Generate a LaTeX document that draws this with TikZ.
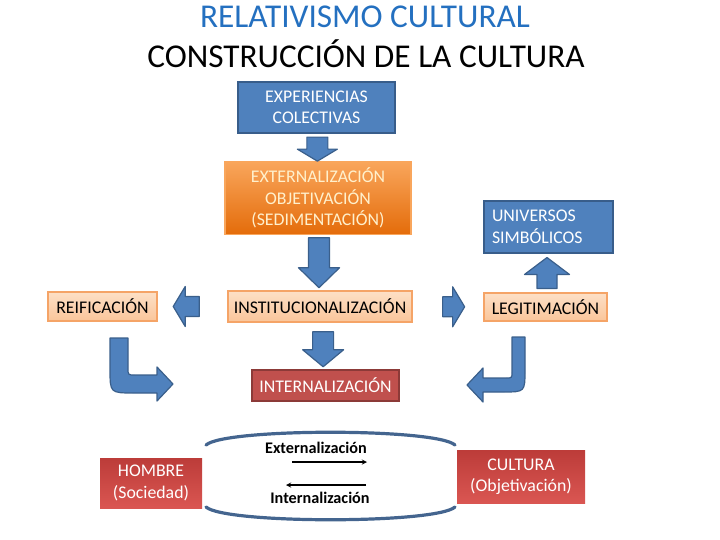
\documentclass[tikz,border=0pt]{standalone}
\usepackage{fontspec}
\setmainfont{Carlito}
\usetikzlibrary{positioning,calc}

\definecolor{titleblue}{HTML}{2470C0}
\definecolor{boxblue}{HTML}{4F81BD}
\definecolor{boxblueline}{HTML}{385D8A}
\definecolor{arrowline}{HTML}{3A5F8B}
\definecolor{orangetop}{HTML}{F9A65C}
\definecolor{orangebot}{HTML}{E46C0A}
\definecolor{orangetext}{HTML}{FFF0CC}
\definecolor{peachtop}{HTML}{FDE0C6}
\definecolor{peachbot}{HTML}{FAC59A}
\definecolor{peachline}{HTML}{F5A467}
\definecolor{boxred}{HTML}{C0504D}
\definecolor{boxredline}{HTML}{8C3A38}
\definecolor{redtop}{HTML}{BC3C39}
\definecolor{redbot}{HTML}{DA5652}
\definecolor{ringblue}{HTML}{44658F}

\begin{document}
\begin{tikzpicture}[x=1pt,y=-1pt,
    box/.style={draw, line width=1.5pt, inner sep=2pt, align=center,
      font=\fontsize{17.8}{21.5}\selectfont},
    bluebox/.style={box, fill=boxblue, draw=boxblueline, text=white},
    orangebox/.style={box, top color=orangetop, bottom color=orangebot, draw=orangetop, text=orangetext},
    peachbox/.style={box, top color=peachtop, bottom color=peachbot, draw=peachline, text=black},
    redbox/.style={box, fill=boxred, draw=boxredline, text=white},
    redgrad/.style={box, draw=none, top color=redtop, bottom color=redbot, text=white},
    title/.style={font=\fontsize{33.3}{38}\selectfont},
    flowlabel/.style={font=\fontsize{16.2}{19}\selectfont\bfseries},
    flow/.style={-stealth, line width=1.3pt},
    ring/.style={draw=ringblue, line width=3.2pt, line cap=round},
    arrowbody/.style={fill=boxblue, draw=arrowline, line width=1.2pt, line join=round},
    pics/bigarrow/.style n args={4}{code={
      \filldraw[arrowbody] (-#1/2,-#3/2) -- (#1/2-#2,-#3/2) -- (#1/2-#2,-#4/2) -- (#1/2,0)
        -- (#1/2-#2,#4/2) -- (#1/2-#2,#3/2) -- (-#1/2,#3/2) -- cycle;}}
    ]
    \useasboundingbox (0,0) rectangle (720,540);

    % titles
    \node[title, text=titleblue] (title1) at (365,17) {RELATIVISMO CULTURAL};
    \node[title] (title2) at (366,54) {CONSTRUCCIÓN DE LA CULTURA};

    % central column
    \node[bluebox, minimum width=157pt, minimum height=51pt] (exp) at (316.5,107.5) {EXPERIENCIAS\\COLECTIVAS};
    \node[orangebox, minimum width=186pt, minimum height=73pt] (ext) at (318,198) {EXTERNALIZACIÓN\\OBJETIVACIÓN\\(SEDIMENTACIÓN)};
    \node[peachbox, minimum width=184pt, minimum height=31pt] (inst) at (320,306.5) {INSTITUCIONALIZACIÓN};
    \node[redbox, minimum width=147pt, minimum height=31pt] (intern) at (325.5,385.5) {INTERNALIZACIÓN};

    % sides
    \node[peachbox, minimum width=109pt, minimum height=29pt] (reif) at (102.5,306.5) {REIFICACIÓN};
    \node[peachbox, minimum width=123pt, minimum height=28pt] (legit) at (545.5,307) {LEGITIMACIÓN};
    \node[bluebox, minimum width=129pt, minimum height=52pt, text width=113pt, align=left] (univ) at (548.5,227) {UNIVERSOS\\SIMBÓLICOS};

    % block arrows
    \pic[rotate=-90] at ($(exp.south)!0.57!(ext.north)$) {bigarrow={24}{12}{21}{40}};
    \pic[rotate=-90] at ($(ext.south)!0.5!(inst.north)$) {bigarrow={50}{20}{21}{41}};
    \pic[rotate=-90] at ($(inst.south)!0.57!(intern.north)$) {bigarrow={35}{17}{21}{41}};
    \pic[rotate=180] at ($(reif.east)!0.41!(inst.west)$) {bigarrow={26}{12}{20}{40}};
    \pic at ($(inst.east)!0.58!(legit.west)$) {bigarrow={22}{12}{20}{40}};
    \pic[rotate=90] at ($(legit.north)!0.5!(univ.south)$) {bigarrow={31}{17}{20}{45}};

    % bent arrows
    \filldraw[arrowbody] (110,338) -- (128,338) -- (128,368) .. controls (128,375) .. (135,375)
      -- (157,375) -- (157,367) -- (173,384) -- (157,401) -- (157,393) -- (134,393)
      .. controls (110,393) .. (110,369) -- cycle;
    \filldraw[arrowbody] (512,337) -- (525,337) -- (525,370) .. controls (525,392) .. (503,392)
      -- (483,392) -- (483,402) -- (467,385) -- (483,368) -- (483,378) -- (506,378)
      .. controls (512,378) .. (512,372) -- cycle;

    % bottom cycle
    \node[redgrad, minimum width=102pt, minimum height=50pt] (hombre) at (151,483) {HOMBRE\\(Sociedad)};
    \node[redgrad, minimum width=128pt, minimum height=53pt] (cultura) at (521,476.5) {CULTURA\\(Objetivación)};
    \draw[ring] (206,445) .. controls (225,428) and (436,428) .. (455,445);
    \draw[ring] (206,507) .. controls (225,524) and (436,524) .. (455,507);

    \node[flowlabel] (extlabel) at (316,448) {Externalización};
    \node[flowlabel] (intlabel) at (320,498) {Internalización};
    \coordinate (extfrom) at (292,462);
    \coordinate (extto) at (367,462);
    \coordinate (intfrom) at (366,485);
    \coordinate (intto) at (286,485);
    \draw[flow] (extfrom) -- (extto);
    \draw[flow] (intfrom) -- (intto);
\end{tikzpicture}
\end{document}
